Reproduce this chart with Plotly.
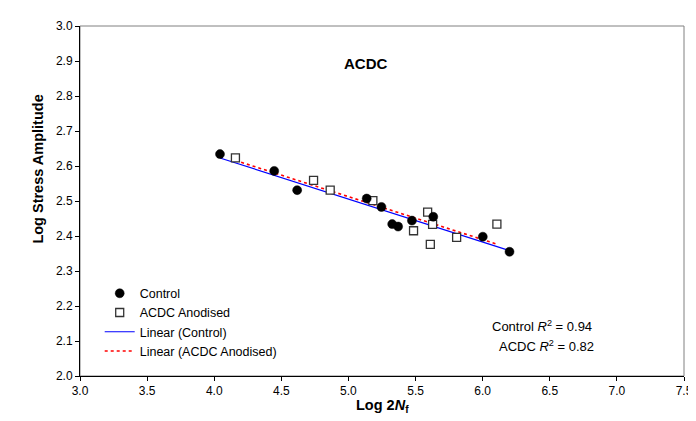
import numpy as np
import plotly.graph_objects as go

# Control data (log 2Nf, log stress amplitude)
control_x = [4.043, 4.447, 4.618, 5.136, 5.246, 5.326, 5.370, 5.473, 5.632, 6.001, 6.200]
control_y = [2.634, 2.586, 2.531, 2.507, 2.483, 2.434, 2.427, 2.444, 2.455, 2.398, 2.355]

# ACDC Anodised data
acdc_x = [4.158, 4.740, 4.864, 5.182, 5.485, 5.590, 5.610, 5.627, 5.806, 6.106]
acdc_y = [2.623, 2.559, 2.531, 2.501, 2.415, 2.468, 2.376, 2.433, 2.396, 2.434]

x_ticks = [3.0, 3.5, 4.0, 4.5, 5.0, 5.5, 6.0, 6.5, 7.0, 7.5]
y_ticks = [2.0, 2.1, 2.2, 2.3, 2.4, 2.5, 2.6, 2.7, 2.8, 2.9, 3.0]

chart_title = "ACDC"
r2_labels = ["Control <i>R</i><sup>2</sup> = 0.94", "ACDC <i>R</i><sup>2</sup> = 0.82"]


def linfit(xs, ys):
    m, c = np.polyfit(xs, ys, 1)
    xr = np.array([min(xs), max(xs)])
    return xr, m * xr + c


cfx, cfy = linfit(control_x, control_y)
afx, afy = linfit(acdc_x, acdc_y)

FONT = "Liberation Sans, Arial, sans-serif"

fig = go.Figure()
fig.add_trace(go.Scatter(
    x=cfx, y=cfy, mode="lines", name="Linear (Control)",
    line=dict(color="#0000FF", width=1.2), legendrank=3))
fig.add_trace(go.Scatter(
    x=afx, y=afy, mode="lines", name="Linear (ACDC Anodised)",
    line=dict(color="#FF0000", width=1.6, dash="3px,3px"), legendrank=4))
fig.add_trace(go.Scatter(
    x=acdc_x, y=acdc_y, mode="markers", name="ACDC Anodised",
    marker=dict(symbol="square", size=8, color="white",
                line=dict(color="#333333", width=1.3)), legendrank=2))
fig.add_trace(go.Scatter(
    x=control_x, y=control_y, mode="markers", name="Control",
    marker=dict(symbol="circle", size=9, color="black",
                line=dict(color="black", width=0.5)), legendrank=1))

axis_common = dict(
    showgrid=False, zeroline=False, showline=True, linecolor="black",
    linewidth=1, ticks="outside", ticklen=4, tickcolor="black",
    tickfont=dict(family=FONT, size=12, color="black"))

fig.update_xaxes(range=[3.0, 7.5], tickvals=x_ticks,
                 ticktext=[f"{v:.1f}" for v in x_ticks], **axis_common)
fig.update_yaxes(range=[2.0, 3.0], tickvals=y_ticks,
                 ticktext=[f"{v:.1f}" for v in y_ticks], **axis_common)

fig.add_shape(type="rect", xref="paper", yref="paper", x0=0, y0=0, x1=1, y1=1,
              line=dict(color="#808080", width=1), layer="below")

fig.add_annotation(text=f"<b>{chart_title}</b>", xref="paper", yref="paper",
                   x=(362 - 72) / 613, y=(368.3 - 39) / 357, showarrow=False,
                   font=dict(family=FONT, size=15, color="black"))
fig.add_annotation(text="<b>Log Stress Amplitude</b>", xref="paper", yref="paper",
                   x=(19 - 72) / 613, y=(368.3 - 157) / 357, textangle=-90,
                   showarrow=False, font=dict(family=FONT, size=14.5, color="black"))
fig.add_annotation(text="<b>Log 2<i>N</i><sub>f</sub></b>", xref="paper", yref="paper",
                   x=0.5, y=(368.3 - 410) / 357, showarrow=False,
                   font=dict(family=FONT, size=14.5, color="black"))
fig.add_annotation(text=r2_labels[0], xref="paper", yref="paper",
                   x=(594 - 72) / 613, y=(368.3 - 327) / 357, showarrow=False,
                   font=dict(family=FONT, size=13, color="black"))
fig.add_annotation(text=r2_labels[1], xref="paper", yref="paper",
                   x=(596 - 72) / 613, y=(368.3 - 348) / 357, showarrow=False,
                   font=dict(family=FONT, size=13, color="black"))

fig.update_layout(
    width=696, height=421,
    margin=dict(l=72, r=11, t=11, b=53),
    paper_bgcolor="white", plot_bgcolor="white",
    font=dict(family=FONT, size=12, color="black"),
    showlegend=True,
    legend=dict(x=(92 - 72) / 613, y=(368.3 - 269) / 357, xanchor="left", yanchor="top",
                bgcolor="rgba(0,0,0,0)", font=dict(family=FONT, size=12.5, color="black"),
                traceorder="normal", itemwidth=30),
)

fig.write_html("out.html")
